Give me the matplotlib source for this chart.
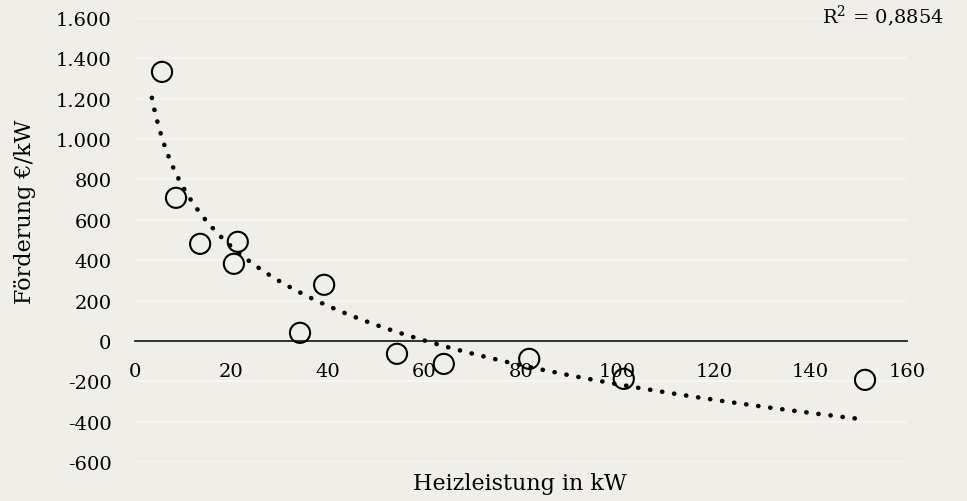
import matplotlib.pyplot as plt
import numpy as np
from matplotlib.ticker import FuncFormatter

# ============================================
# DATA
# ============================================

heizleistung_kw = [5.6, 8.5, 13.5, 21.3, 20.5, 39.2, 34.2, 54.3, 64.0, 81.7, 101.3, 151.3]
foerderung_eur_kw = [1333, 709, 481, 491, 382, 278, 40, -64, -114, -89, -188, -193]

x_ticks = [0, 20, 40, 60, 80, 100, 120, 140, 160]
y_ticks = [-600, -400, -200, 0, 200, 400, 600, 800, 1000, 1200, 1400, 1600]

r2_text = 'R$^2$ = 0,8854'
trend_x_range = (3.5, 150.5)

# ============================================
# STYLE
# ============================================

BG = '#f0eee9'
GRID = '#f6f5f2'
plt.rcParams['font.family'] = ['DejaVu Serif']
plt.rcParams['mathtext.fontset'] = 'dejavuserif'

fig = plt.figure(figsize=(9.67, 5.02), dpi=100, facecolor=BG)
ax = fig.add_axes([135 / 967, 1 - 463 / 502, (907 - 135) / 967, (463 - 19) / 502])
ax.set_facecolor(BG)

# logarithmic trendline, fitted from the data
a, b = np.polyfit(np.log(heizleistung_kw), foerderung_eur_kw, 1)
xt = np.linspace(trend_x_range[0], trend_x_range[1], 300)
ax.plot(xt, a * np.log(xt) + b, color='black', linewidth=3.3,
        linestyle=(0, (0.05, 2.6)), dash_capstyle='round', zorder=3)

ax.scatter(heizleistung_kw, foerderung_eur_kw, s=210, facecolors='none',
           edgecolors='black', linewidths=1.5, zorder=4)

ax.set_xlim(0, 160)
ax.set_ylim(-600, 1600)
ax.set_xticks(x_ticks)
ax.set_yticks(y_ticks)
ax.yaxis.set_major_formatter(FuncFormatter(lambda v, p: f'{int(v):,}'.replace(',', '.')))

ax.grid(axis='y', color=GRID, linewidth=1.5)
ax.set_axisbelow(True)

for s in ['top', 'right', 'left']:
    ax.spines[s].set_visible(False)
ax.spines['bottom'].set_position(('data', 0))
ax.spines['bottom'].set_color('#222222')
ax.spines['bottom'].set_linewidth(1.3)

ax.tick_params(axis='both', length=0, labelsize=14)
ax.tick_params(axis='x', pad=15)
ax.tick_params(axis='y', pad=17)

fig.text(25 / 967, 1 - 212 / 502, 'Förderung €/kW', fontsize=16, rotation=90,
         ha='center', va='center')
fig.text(520 / 967, 1 - 484 / 502, 'Heizleistung in kW', fontsize=16,
         ha='center', va='center')
fig.text(944 / 967, 1 - 16 / 502, r2_text, fontsize=14, ha='right', va='center')

plt.savefig('out.png', dpi=100, facecolor=BG)
